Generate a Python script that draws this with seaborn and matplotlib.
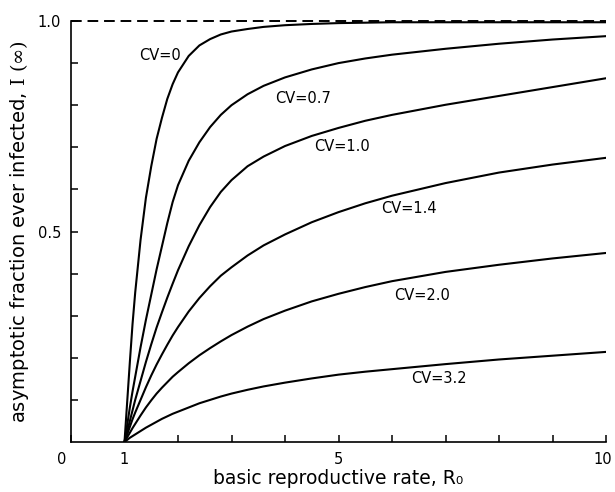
import numpy as np
import pandas as pd
import seaborn as sns
import matplotlib
matplotlib.use("Agg")
import matplotlib.pyplot as plt
import matplotlib.transforms as mtransforms

# ---- data ----
r0 = [1, 1.05, 1.1, 1.15, 1.2, 1.3, 1.4, 1.5, 1.6, 1.7, 1.8, 1.9, 2.0, 2.2, 2.4, 2.6, 2.8,
      3.0, 3.3, 3.6, 4.0, 4.5, 5, 5.5, 6, 7, 8, 9, 10]
cv_0   = [0, 0.095, 0.19, 0.28, 0.355, 0.48, 0.58, 0.655, 0.72, 0.77, 0.815, 0.85, 0.878, 0.917, 0.942,
          0.957, 0.968, 0.975, 0.981, 0.986, 0.99, 0.993, 0.995, 0.996, 0.997, 0.997, 0.997, 0.997, 0.997]
cv_0_7 = [0, 0.04, 0.082, 0.12, 0.155, 0.225, 0.29, 0.35, 0.41, 0.465, 0.52, 0.57, 0.61, 0.668, 0.712,
          0.748, 0.777, 0.80, 0.826, 0.846, 0.866, 0.885, 0.90, 0.911, 0.92, 0.934, 0.946, 0.956, 0.964]
cv_1_0 = [0, 0.025, 0.05, 0.075, 0.10, 0.145, 0.19, 0.232, 0.272, 0.308, 0.343, 0.376, 0.408, 0.465, 0.515,
          0.558, 0.594, 0.622, 0.655, 0.678, 0.703, 0.727, 0.746, 0.763, 0.777, 0.801, 0.822, 0.843, 0.864]
cv_1_4 = [0, 0.018, 0.036, 0.054, 0.07, 0.10, 0.13, 0.158, 0.184, 0.208, 0.231, 0.253, 0.273, 0.31, 0.342,
          0.37, 0.395, 0.415, 0.443, 0.467, 0.493, 0.522, 0.546, 0.567, 0.585, 0.615, 0.64, 0.659, 0.675]
cv_2_0 = [0, 0.011, 0.022, 0.033, 0.043, 0.063, 0.082, 0.099, 0.115, 0.129, 0.142, 0.155, 0.166, 0.187, 0.206,
          0.223, 0.239, 0.254, 0.274, 0.292, 0.312, 0.334, 0.352, 0.368, 0.382, 0.404, 0.421, 0.436, 0.449]
cv_3_2 = [0, 0.005, 0.01, 0.014, 0.018, 0.026, 0.034, 0.041, 0.048, 0.055, 0.061, 0.067, 0.072, 0.082, 0.092,
          0.10, 0.108, 0.115, 0.124, 0.132, 0.141, 0.151, 0.16, 0.167, 0.173, 0.185, 0.196, 0.205, 0.214]

series_names = ["CV=0", "CV=0.7", "CV=1.0", "CV=1.4", "CV=2.0", "CV=3.2"]
series_vals = [cv_0, cv_0_7, cv_1_0, cv_1_4, cv_2_0, cv_3_2]

x_tick_vals = [0, 1, 2, 3, 4, 5, 6, 7, 8, 9, 10]
x_tick_labels = ["0", "1", "", "", "", "5", "", "", "", "", "10"]
y_tick_vals = [0.1, 0.2, 0.3, 0.4, 0.5, 0.6, 0.7, 0.8, 0.9, 1.0]
y_tick_labels = ["", "", "", "", "0.5", "", "", "", "", "1.0"]

df = pd.DataFrame(
    [(x, v, name) for name, vals in zip(series_names, series_vals) for x, v in zip(r0, vals)],
    columns=["R0", "I", "CV"],
)

sns.set_theme(style="ticks")
plt.rcParams["font.family"] = ["DejaVu Sans"]
plt.rcParams["mathtext.fontset"] = "dejavuserif"
plt.rcParams["axes.labelcolor"] = "black"
plt.rcParams["text.color"] = "black"

fig = plt.figure(figsize=(6.15, 4.92), dpi=100)
ax = fig.add_axes([71 / 615, 50 / 492, 535 / 615, 421 / 492])

sns.lineplot(data=df, x="R0", y="I", hue="CV", palette=["black"] * 6,
             legend=False, linewidth=1.5, ax=ax, sort=False)

ax.plot([0, 10], [1.0, 1.0], color="black", lw=1.4, dashes=(5.5, 3), zorder=1, clip_on=False)

ax.set_xlim(0, 10)
ax.set_ylim(0, 1.0)
ax.set_xticks(x_tick_vals)
ax.set_xticklabels(x_tick_labels)
ax.set_yticks(y_tick_vals)
ax.set_yticklabels(y_tick_labels)
ax.tick_params(axis="both", direction="in", length=5, width=1.1, colors="black",
               labelsize=10.5, pad=7)

# origin "0" label sits left of the corner; "10" nudged to stay inside
xl = ax.get_xticklabels()
xl[0].set_horizontalalignment("right")
xl[0].set_transform(xl[0].get_transform() + mtransforms.ScaledTranslation(-3 / 72, 0, fig.dpi_scale_trans))
xl[-1].set_transform(xl[-1].get_transform() + mtransforms.ScaledTranslation(-2 / 72, 0, fig.dpi_scale_trans))

for side in ["top", "right"]:
    ax.spines[side].set_visible(False)
for side in ["left", "bottom"]:
    ax.spines[side].set_linewidth(1.2)
    ax.spines[side].set_color("black")

ax.set_xlabel("basic reproductive rate, R\u2080", fontsize=13.5, labelpad=2, color="black")
ax.set_ylabel(r"asymptotic fraction ever infected, $\mathrm{I}\ (\infty)$", fontsize=14, labelpad=5, color="black")

label_pos = [(1.66, 0.919), (4.33, 0.817), (5.06, 0.701), (6.31, 0.554), (6.57, 0.349), (6.87, 0.152)]
for name, (lx, ly) in zip(series_names, label_pos):
    ax.text(lx, ly, name, fontsize=10.5, ha="center", va="center", color="black")

fig.savefig("out.png", dpi=100)
